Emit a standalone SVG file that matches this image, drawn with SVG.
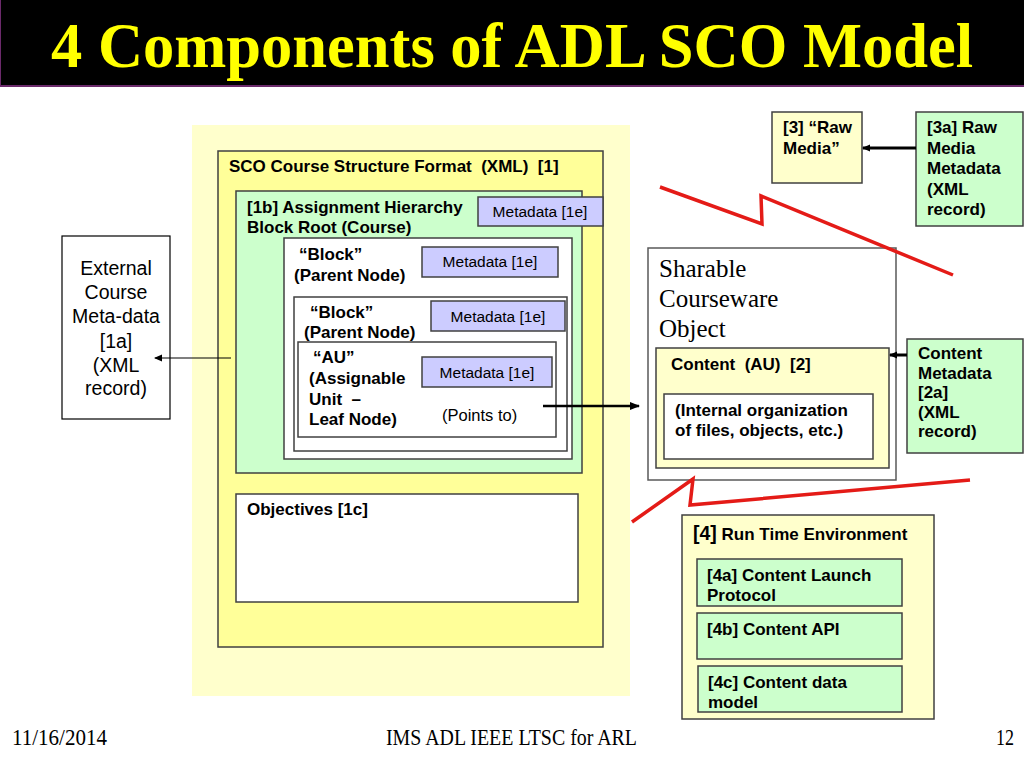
<svg xmlns="http://www.w3.org/2000/svg" width="1024" height="768" viewBox="0 0 1024 768">
<defs>
<style>
.b{font-family:"Liberation Sans",Arial,sans-serif;font-weight:bold;font-size:17px;fill:#000;white-space:pre}
.r{font-family:"Liberation Sans",Arial,sans-serif;font-size:15.5px;fill:#000;white-space:pre}
.rl{font-family:"Liberation Sans",Arial,sans-serif;font-size:16.5px;fill:#000}
.ext{font-family:"Liberation Sans",Arial,sans-serif;font-size:19.5px;fill:#000;text-anchor:middle}
.ser{font-family:"Liberation Serif","Times New Roman",serif;font-size:25px;fill:#000}
.foot{font-family:"Liberation Serif","Times New Roman",serif;font-size:23px;fill:#000}
.box{stroke:#404040;stroke-width:1.5}
.y1{fill:#FFFFCC}
.y2{fill:#FFFF99}
.g{fill:#CCFFCC}
.w{fill:#FFFFFF}
.m{fill:#CCCCFF;stroke:#404040;stroke-width:1.5}
.red{fill:none;stroke:#E41B17;stroke-width:3.5;stroke-linejoin:miter}
.mid{text-anchor:middle}
</style>
<marker id="ah" markerWidth="8" markerHeight="8" refX="7" refY="4" orient="auto" markerUnits="userSpaceOnUse">
<path d="M0,0.5 L8,4 L0,7.5 Z" fill="#000"/>
</marker>
<marker id="ahs" markerWidth="10" markerHeight="8" refX="9" refY="4" orient="auto" markerUnits="userSpaceOnUse">
<path d="M0,0 L10,4 L0,8 Z" fill="#000"/>
</marker>
</defs>
<rect width="1024" height="768" fill="#FFFFFF"/>

<g id="title">
<rect x="0" y="0" width="1024" height="86" fill="#000"/>
<line x1="0" y1="86" x2="1024" y2="86" stroke="#6B2A6B" stroke-width="2"/>
<line x1="0.5" y1="0" x2="0.5" y2="86" stroke="#6B2A6B" stroke-width="1"/>
<text x="51" y="67" font-family="'Liberation Serif','Times New Roman',serif" font-weight="bold" font-size="64" fill="#FFFF00" textLength="922" lengthAdjust="spacingAndGlyphs">4 Components of ADL SCO Model</text>
</g>

<g id="bg-panel">
<rect x="192" y="125" width="438" height="571" fill="#FFFFCC"/>
</g>

<g id="sco-structure">
<rect class="box y2" x="218" y="151" width="385" height="496"/>
<text class="b" x="229" y="172">SCO Course Structure Format  (XML)  [1]</text>
</g>

<g id="assignment-hierarchy">
<rect class="box g" x="236" y="191" width="346" height="282"/>
<text class="b" x="247" y="213">[1b] Assignment Hierarchy</text>
<text class="b" x="247" y="233">Block Root (Course)</text>
</g>
<g id="meta-1">
<rect class="m" x="478" y="197" width="125" height="29"/>
<text class="r mid" x="540" y="217">Metadata [1e]</text>
</g>

<g id="block-1">
<rect class="box w" x="284" y="238" width="288" height="221"/>
<text class="b" x="299" y="260">“Block”</text>
<text class="b" x="294" y="281">(Parent Node)</text>
</g>
<g id="meta-2">
<rect class="m" x="422" y="247" width="136" height="30"/>
<text class="r mid" x="490" y="267">Metadata [1e]</text>
</g>

<g id="block-2">
<rect class="box w" x="294" y="297" width="273" height="154"/>
<text class="b" x="310" y="318">“Block”</text>
<text class="b" x="304" y="338">(Parent Node)</text>
</g>
<g id="meta-3">
<rect class="m" x="431" y="301" width="134" height="30"/>
<text class="r mid" x="498" y="322">Metadata [1e]</text>
</g>

<g id="au">
<rect class="box w" x="298" y="342" width="258" height="95"/>
<text class="b" x="313" y="363">“AU”</text>
<text class="b" x="309" y="384">(Assignable</text>
<text class="b" x="309" y="405">Unit  –</text>
<text class="b" x="309" y="425">Leaf Node)</text>
<text class="rl" x="442" y="421">(Points to)</text>
</g>
<g id="meta-4">
<rect class="m" x="422" y="357" width="130" height="30"/>
<text class="r mid" x="487" y="378">Metadata [1e]</text>
</g>

<g id="objectives">
<rect class="box w" x="236" y="494" width="342" height="108"/>
<text class="b" x="247" y="515">Objectives [1c]</text>
</g>

<g id="external-meta">
<rect x="62" y="236" width="108" height="183" fill="#FFFFFF" stroke="#000" stroke-width="1.2"/>
<text class="ext" x="116" y="275">External</text>
<text class="ext" x="116" y="299">Course</text>
<text class="ext" x="116" y="323">Meta-data</text>
<text class="ext" x="116" y="348">[1a]</text>
<text class="ext" x="116" y="372">(XML</text>
<text class="ext" x="116" y="395">record)</text>
</g>

<g id="sco">
<rect x="648" y="248" width="248" height="232" fill="#FFFFFF" stroke="#595959" stroke-width="1.5"/>
<text class="ser" x="659" y="277">Sharable</text>
<text class="ser" x="659" y="307">Courseware</text>
<text class="ser" x="659" y="337">Object</text>
</g>

<g id="content">
<rect class="box y1" x="656" y="348" width="233" height="120"/>
<text class="b" x="671" y="370">Content  (AU)  [2]</text>
<rect class="box w" x="664" y="394" width="209" height="65"/>
<text class="b" x="675" y="416">(Internal organization</text>
<text class="b" x="675" y="436">of files, objects, etc.)</text>
</g>

<g id="content-meta">
<rect class="box g" x="907" y="339" width="116" height="114"/>
<text class="b" x="918" y="359">Content</text>
<text class="b" x="918" y="379">Metadata</text>
<text class="b" x="918" y="398">[2a]</text>
<text class="b" x="918" y="418">(XML</text>
<text class="b" x="918" y="437">record)</text>
</g>

<g id="raw-media">
<rect class="box y1" x="772" y="112" width="90" height="71"/>
<text class="b" x="783" y="133">[3] “Raw</text>
<text class="b" x="783" y="154">Media”</text>
</g>

<g id="raw-media-meta">
<rect class="box g" x="916" y="112" width="107" height="114"/>
<text class="b" x="927" y="133">[3a] Raw</text>
<text class="b" x="927" y="154">Media</text>
<text class="b" x="927" y="174">Metadata</text>
<text class="b" x="927" y="195">(XML</text>
<text class="b" x="927" y="215">record)</text>
</g>

<g id="runtime">
<rect class="box y1" x="682" y="515" width="252" height="204"/>
<text class="b" x="693" y="540"><tspan font-size="19.5">[4]</tspan> Run Time Environment</text>
</g>
<g id="rt-4a">
<rect class="box g" x="697" y="559" width="205" height="47"/>
<text class="b" x="707" y="581">[4a] Content Launch</text>
<text class="b" x="707" y="601">Protocol</text>
</g>
<g id="rt-4b">
<rect class="box g" x="697" y="613" width="205" height="46"/>
<text class="b" x="707" y="635">[4b] Content API</text>
</g>
<g id="rt-4c">
<rect class="box g" x="698" y="666" width="204" height="46"/>
<text class="b" x="708" y="688">[4c] Content data</text>
<text class="b" x="708" y="708">model</text>
</g>

<g id="connectors">
<line x1="231" y1="358" x2="155" y2="358" stroke="#000" stroke-width="1.2" marker-end="url(#ah)"/>
<line x1="543" y1="406" x2="639" y2="406" stroke="#000" stroke-width="2.5" marker-end="url(#ahs)"/>
<line x1="916" y1="148" x2="863" y2="148" stroke="#000" stroke-width="3" marker-end="url(#ah)"/>
<line x1="907" y1="355" x2="890" y2="355" stroke="#000" stroke-width="3" marker-end="url(#ah)"/>
</g>

<g id="red-breaks">
<polyline class="red" points="660,187 762,224 761,196 953,275"/>
<polyline class="red" points="632,522 693,479 690,505 970,480"/>
</g>

<g id="footer">
<text class="foot" x="12" y="745" textLength="95" lengthAdjust="spacingAndGlyphs">11/16/2014</text>
<text class="foot" x="386" y="745" textLength="251" lengthAdjust="spacingAndGlyphs">IMS ADL IEEE LTSC for ARL</text>
<text class="foot" x="996" y="745" textLength="18" lengthAdjust="spacingAndGlyphs">12</text>
</g>
</svg>
